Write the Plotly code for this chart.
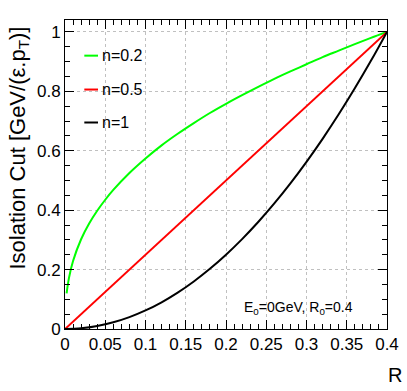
import plotly.graph_objects as go

# curve samples
r_green = [0.002, 0.005, 0.01, 0.02, 0.03, 0.04, 0.05, 0.06, 0.08, 0.1, 0.12, 0.14,
           0.16, 0.18, 0.2, 0.22, 0.24, 0.26, 0.28, 0.3, 0.32, 0.34, 0.36, 0.38, 0.4]
cut_green = [0.120, 0.173, 0.229, 0.302, 0.355, 0.398, 0.435, 0.468, 0.525, 0.574, 0.618, 0.657,
             0.693, 0.727, 0.758, 0.787, 0.815, 0.842, 0.867, 0.891, 0.915, 0.937, 0.959, 0.980, 1.0]

r_red = [0.0, 0.4]
cut_red = [0.0, 1.0]

r_black = [0.0, 0.02, 0.04, 0.06, 0.08, 0.1, 0.12, 0.14, 0.16, 0.18, 0.2,
           0.22, 0.24, 0.26, 0.28, 0.3, 0.32, 0.34, 0.36, 0.38, 0.4]
cut_black = [0.0, 0.0025, 0.01, 0.0225, 0.04, 0.0625, 0.09, 0.1225, 0.16, 0.2025, 0.25,
             0.3025, 0.36, 0.4225, 0.49, 0.5625, 0.64, 0.7225, 0.81, 0.9025, 1.0]

labels = ["n=0.2", "n=0.5", "n=1"]
colors = ["#00ff00", "#ff0000", "#000000"]

fig = go.Figure()
for xs, ys, c, name in [(r_green, cut_green, colors[0], labels[0]),
                        (r_red, cut_red, colors[1], labels[1]),
                        (r_black, cut_black, colors[2], labels[2])]:
    fig.add_trace(go.Scatter(x=xs, y=ys, mode="lines", name=name,
                             line=dict(color=c, width=2, shape="spline"), showlegend=False))

font = "Liberation Sans, Arial, sans-serif"
axis_common = dict(showline=True, linecolor="black", linewidth=1, mirror="allticks",
                   ticks="inside", ticklen=9, tickcolor="black", automargin=False,
                   showgrid=True, gridcolor="#c0c0c0", griddash="dot", gridwidth=1,
                   zeroline=False, tickfont=dict(family=font, size=17, color="black"))

fig.update_xaxes(range=[0, 0.4], dtick=0.05, tick0=0,
                 minor=dict(dtick=0.01, ticklen=5, ticks="inside", tickcolor="black", showgrid=False),
                 **axis_common)
fig.update_yaxes(range=[0, 1.04], dtick=0.2, tick0=0,
                 minor=dict(dtick=0.05, ticklen=5, ticks="inside", tickcolor="black", showgrid=False),
                 **axis_common)

# legend drawn by hand (short line samples like ROOT's TLegend)
leg_y = [0.92, 0.806, 0.695]
for lab, c, yy in zip(labels, colors, leg_y):
    fig.add_shape(type="line", xref="x", yref="y", x0=0.024, x1=0.041, y0=yy, y1=yy,
                  line=dict(color=c, width=2))
    fig.add_annotation(x=0.044, y=yy, xref="x", yref="y", text=lab, showarrow=False,
                       xanchor="left", yanchor="middle",
                       font=dict(family=font, size=16, color="black"))

fig.add_annotation(x=0.36, y=0.07, xref="x", yref="y", text="E<sub>0</sub>=0GeV, R<sub>0</sub>=0.4",
                   showarrow=False, xanchor="right", yanchor="middle",
                   font=dict(family=font, size=14, color="black"))

L, R, T, B = 65, 20, 20, 62
W, H = 407, 391
pw, ph = W - L - R, H - T - B

fig.add_annotation(x=(404 - L) / pw, y=(H - B - 375) / ph, xref="paper", yref="paper",
                   text="R", showarrow=False, xanchor="right", yanchor="middle",
                   font=dict(family=font, size=20, color="black"))
fig.add_annotation(x=(18 - L) / pw, y=(H - B - 25) / ph, xref="paper", yref="paper",
                   text="Isolation Cut [GeV/(ε.p<sub>T</sub>)]", textangle=-90, showarrow=False,
                   xanchor="center", yanchor="top",
                   font=dict(family=font, size=22, color="black"))

fig.update_layout(
    width=W, height=H,
    margin=dict(l=L, r=R, t=T, b=B, autoexpand=False),
    paper_bgcolor="white", plot_bgcolor="white",
)

fig.write_html("out.html", config={"displayModeBar": False},
               post_script="document.body.style.margin='0';document.body.style.overflow='hidden';")
